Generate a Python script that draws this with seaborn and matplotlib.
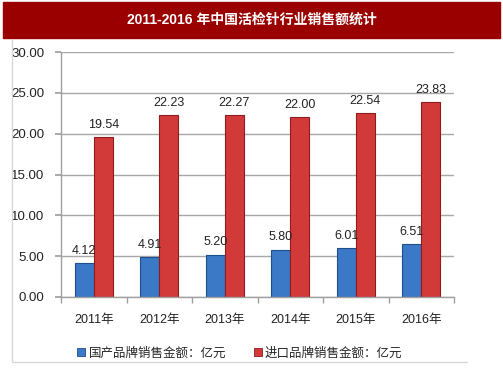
import matplotlib
matplotlib.use("Agg")
import matplotlib.pyplot as plt
import seaborn as sns
import pandas as pd
from matplotlib.lines import Line2D
from matplotlib.patches import Rectangle

years = ["2011年", "2012年", "2013年", "2014年", "2015年", "2016年"]
domestic = [4.12, 4.91, 5.20, 5.80, 6.01, 6.51]
imported = [19.54, 22.23, 22.27, 22.00, 22.54, 23.83]
series_names = ["国产品牌销售金额：亿元", "进口品牌销售金额：亿元"]
title = "2011-2016 年中国活检针行业销售额统计"
yticks = [0, 5, 10, 15, 20, 25, 30]

sns.set_theme(style="white")
plt.rcParams['font.family'] = ['Liberation Sans', 'Noto Sans CJK SC', 'DejaVu Sans']

df = pd.DataFrame({
    "year": years * 2,
    "value": domestic + imported,
    "series": [series_names[0]] * len(years) + [series_names[1]] * len(years),
})

colors = ["#3B78C6", "#D23A3A"]
edges = ["#1F4E8C", "#8E1C1C"]

fig = plt.figure(figsize=(5.03, 3.78), dpi=100)
ax = fig.add_axes([0.1213, 0.2143, 0.9026 - 0.1213, 0.8624 - 0.2143])

sns.barplot(data=df, x="year", y="value", hue="series", palette=colors,
            width=0.58, ax=ax, legend=False, saturation=1)

for cont, ec in zip(ax.containers, edges):
    for p in cont:
        p.set_edgecolor(ec)
        p.set_linewidth(0.8)
    ax.bar_label(cont, fmt="%.2f", padding=4.5, fontsize=9, color="#222222",
                 family=['Liberation Sans', 'DejaVu Sans'])

ax.set_ylim(0, 30)
ax.set_xlim(-0.5, len(years) - 0.5)
ax.set_yticks(yticks)
ax.set_yticklabels([f"{v:.2f}" for v in yticks])
ax.set_xlabel("")
ax.set_ylabel("")
ax.yaxis.grid(True, color="#A8A8A8", linewidth=1)
ax.set_axisbelow(True)
for s in ["top", "right"]:
    ax.spines[s].set_visible(False)
for s in ["left", "bottom"]:
    ax.spines[s].set_color("#A0A0A0")
    ax.spines[s].set_linewidth(1)

ax.tick_params(axis="y", which="major", left=True, length=4, color="#A0A0A0",
               labelsize=9.5, labelcolor="#222222", pad=8)
ax.set_xticks([i + 0.5 for i in range(-1, len(years))], minor=True)
ax.tick_params(axis="x", which="minor", bottom=True, length=4, color="#A0A0A0")
ax.tick_params(axis="x", which="major", bottom=False, labelsize=9,
               labelcolor="#222222", pad=6)

# title banner
fig.patches.append(Rectangle((3 / 503, 1 - 38 / 378), 497 / 503, 36 / 378,
                             transform=fig.transFigure, color="#9B0000", zorder=0))
fig.text(0.5, 1 - 20 / 378, title, color="white", fontsize=10, fontweight="bold",
         ha="center", va="center",
         family=['Liberation Sans', 'Noto Sans CJK SC'])

# faint frame lines
fig.add_artist(Line2D([12 / 503, 12 / 503], [1 - 40 / 378, 1 - 362 / 378],
                      transform=fig.transFigure, color="#D8D8D8", linewidth=1))
fig.add_artist(Line2D([12 / 503, 467 / 503], [1 - 362 / 378, 1 - 362 / 378],
                      transform=fig.transFigure, color="#D8D8D8", linewidth=1))

handles = [Line2D([], [], marker="s", linestyle="none", markersize=6,
                  markerfacecolor=c, markeredgecolor=e, markeredgewidth=0.6)
           for c, e in zip(colors, edges)]
fig.legend(handles, series_names, loc="center", bbox_to_anchor=(240 / 503, 1 - 353 / 378),
           ncol=2, frameon=False, fontsize=9, handlelength=0.6, handletextpad=0.3,
           columnspacing=2.2, prop={'family': ['Noto Sans CJK SC'], 'size': 9})

fig.savefig("out.png", dpi=100)
